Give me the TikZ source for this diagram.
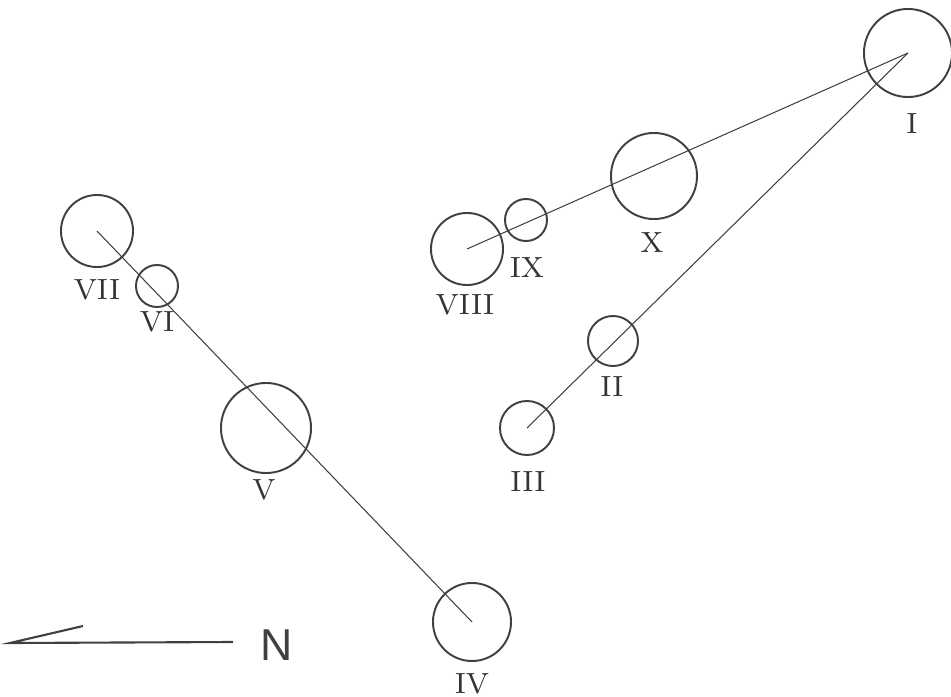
\documentclass[tikz,border=0pt]{standalone}
\usepackage{fontspec}
\newfontfamily\northfont{Liberation Sans}

\begin{document}
\begin{tikzpicture}[x=0.01cm,y=-0.01cm,
    star/.style={circle,draw=black!75,line width=0.55pt,inner sep=0pt,minimum size=#1},
    num/.style={font=\fontsize{8.3}{10}\selectfont,text=black!80,inner sep=0pt},
    link/.style={draw=black!75,line width=0.3pt}]

  \useasboundingbox (0,0) rectangle (951,697);

  % Define nodes
  \node[star=0.88cm] (s1)  at (908,53)  {};
  \node[star=0.50cm] (s2)  at (613,341) {};
  \node[star=0.54cm] (s3)  at (527,428) {};
  \node[star=0.78cm] (s4)  at (472,622) {};
  \node[star=0.90cm] (s5)  at (266,428) {};
  \node[star=0.42cm] (s6)  at (157,286) {};
  \node[star=0.72cm] (s7)  at (97,231)  {};
  \node[star=0.72cm] (s8)  at (467,249) {};
  \node[star=0.42cm] (s9)  at (526,220) {};
  \node[star=0.86cm] (s10) at (654,176) {};

  % Labels
  \node[num] (l1)  at (912,124) {I};
  \node[num] (l2)  at (612,387) {II};
  \node[num] (l3)  at (528,482) {III};
  \node[num] (l4)  at (472,684) {IV};
  \node[num] (l5)  at (264,490) {V};
  \node[num] (l6)  at (157,322) {VI};
  \node[num] (l7)  at (97,290)  {VII};
  \node[num] (l8)  at (465,305) {VIII};
  \node[num] (l9)  at (527,268) {IX};
  \node[num] (l10) at (652,243) {X};

  % Connect the nodes
  \draw[link] (s7.center) -- (s4.center);
  \draw[link] (s8.center) -- (s1.center);
  \draw[link] (s3.center) -- (s1.center);

  % North arrow
  \node[font=\northfont\fontsize{12.7}{14}\selectfont,text=black!75,inner sep=0pt] (north) at (277,645) {N};
  \coordinate (tail) at (233,642);
  \coordinate (tip)  at (10,643);
  \coordinate (barb) at (83,626);
  \draw[draw=black!75,line width=0.6pt] (tail) -- (tip) -- (barb);

\end{tikzpicture}
\end{document}
